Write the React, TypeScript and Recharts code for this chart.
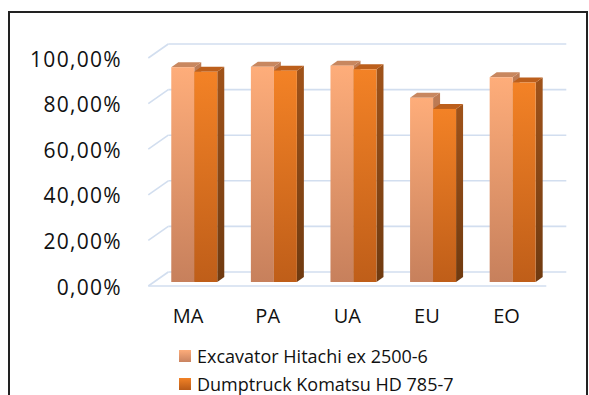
import React from "react";
import { BarChart, Bar, XAxis, YAxis, CartesianGrid, Legend } from "recharts";

const categories = ["MA", "PA", "UA", "EU", "EO"];
const excavator = [94.2, 94.4, 94.9, 80.8, 89.8];
const dumptruck = [92.2, 92.7, 93.3, 75.9, 87.5];
const yTicks = [0, 20, 40, 60, 80, 100];
const seriesKeys = ["excavator", "dumptruck"];
const seriesNames = ["Excavator Hitachi ex 2500-6", "Dumptruck Komatsu HD 785-7"];

const data = categories.map((name, i) => ({
  name,
  excavator: excavator[i],
  dumptruck: dumptruck[i],
}));

const font = "'Open Sans', sans-serif";
const W = 589;
const H = 395;
const margin = { top: 54, right: 37, bottom: 83, left: 34 };
const plotBottom = H - margin.bottom - 30;

// fake 3D: bar depth, and where the front edge / back wall sit relative to the bars
const depth = { dx: 7, dy: -5 };
const front = { dx: -5.7, dy: 4 };
const back = { dx: 14.3, dy: -10 };

const looks: Record<string, { top: string }> = {
  excavator: { top: "#C8875F" },
  dumptruck: { top: "#BC5F1C" },
};

const swatch: Record<string, string> = {
  excavator: "linear-gradient(#FDAC7A, #C98360)",
  dumptruck: "linear-gradient(#F28226, #B85A18)",
};

const Box = (p: any) => {
  const { x, y, width: w, height: h, look } = p;
  if (!h || h <= 0) return null;
  const { dx, dy } = depth;
  return (
    <g>
      <polygon
        points={`${x + w},${y} ${x + w + dx},${y + dy} ${x + w + dx},${y + h + dy} ${x + w},${y + h}`}
        fill={`url(#${look}-side)`}
      />
      <polygon
        points={`${x},${y} ${x + w},${y} ${x + w + dx},${y + dy} ${x + dx},${y + dy}`}
        fill={looks[look].top}
      />
      <rect x={x} y={y} width={w} height={h} fill={`url(#${look}-front)`} />
    </g>
  );
};

const gridLine = (p: any) => {
  const { x1, x2, y1 } = p;
  const bottom = p.y != null && p.height != null ? p.y + p.height : plotBottom;
  const floor = Math.abs(y1 - bottom) < 1;
  return (
    <g key={p.key} stroke="#D2DEEF" strokeWidth={1.6} fill="none">
      <line x1={x1 + back.dx} y1={y1 + back.dy} x2={x2 + back.dx} y2={y1 + back.dy} />
      <line x1={x1 + front.dx} y1={y1 + front.dy} x2={x1 + back.dx} y2={y1 + back.dy} />
      {floor && (
        <line x1={x1 + front.dx} y1={y1 + front.dy} x2={x2 + front.dx} y2={y1 + front.dy} />
      )}
    </g>
  );
};

const YTick = (p: any) => (
  <text
    x={122}
    y={p.y + front.dy + 1}
    dy="0.36em"
    textAnchor="end"
    fontFamily={font}
    fontSize={21}
    letterSpacing={1.3}
    fill="#111"
  >
    {p.payload.value.toFixed(2).replace(".", ",") + "%"}
  </text>
);

const XTick = (p: any) => (
  <text
    x={p.x + front.dx}
    y={323}
    textAnchor="middle"
    fontFamily={font}
    fontSize={20}
    fill="#111"
  >
    {p.payload.value}
  </text>
);

const renderLegend = ({ payload }: any) => {
  const items = [...(payload || [])].sort(
    (a: any, b: any) => seriesKeys.indexOf(a.dataKey) - seriesKeys.indexOf(b.dataKey)
  );
  return (
    <div>
      {items.map((e: any) => (
        <div
          key={e.dataKey}
          style={{
            display: "flex",
            alignItems: "center",
            height: 28,
            fontFamily: font,
            fontSize: 18,
            color: "#111",
            whiteSpace: "nowrap",
          }}
        >
          <span
            style={{
              display: "inline-block",
              width: 12,
              height: 12,
              marginRight: 6,
              background: swatch[e.dataKey],
            }}
          />
          {e.value}
        </div>
      ))}
    </div>
  );
};

export default function App() {
  return (
    <div style={{ position: "absolute", left: 0, top: 0, width: W, height: H, background: "#fff" }}>
      <div
        style={{
          position: "absolute",
          left: 8,
          top: 11,
          width: 580,
          height: H - 11,
          boxSizing: "border-box",
          borderTop: "2px solid #222",
          borderLeft: "2px solid #222",
          borderRight: "2px solid #222",
        }}
      />
      <div style={{ position: "absolute", left: 0, top: 0 }}>
        <BarChart
          width={W}
          height={H}
          data={data}
          margin={margin}
          barCategoryGap="21.7%"
          barGap={0}
        >
          <defs>
            <linearGradient id="excavator-front" x1="0" y1="0" x2="0" y2="1">
              <stop offset="0%" stopColor="#FEAD7A" />
              <stop offset="100%" stopColor="#C7805C" />
            </linearGradient>
            <linearGradient id="excavator-side" x1="0" y1="0" x2="0" y2="1">
              <stop offset="0%" stopColor="#BE7C55" />
              <stop offset="100%" stopColor="#9C6040" />
            </linearGradient>
            <linearGradient id="dumptruck-front" x1="0" y1="0" x2="0" y2="1">
              <stop offset="0%" stopColor="#F38226" />
              <stop offset="100%" stopColor="#BF5E19" />
            </linearGradient>
            <linearGradient id="dumptruck-side" x1="0" y1="0" x2="0" y2="1">
              <stop offset="0%" stopColor="#A0531A" />
              <stop offset="100%" stopColor="#6F3A10" />
            </linearGradient>
          </defs>
          <CartesianGrid vertical={false} horizontal={gridLine} />
          <XAxis
            dataKey="name"
            axisLine={false}
            tickLine={false}
            height={30}
            tick={<XTick />}
            interval={0}
          />
          <YAxis
            type="number"
            domain={[0, 100]}
            ticks={yTicks}
            width={120}
            axisLine={false}
            tickLine={false}
            tick={<YTick />}
          />
          <Legend
            layout="vertical"
            align="center"
            verticalAlign="middle"
            content={renderLegend}
            wrapperStyle={{ left: 179, top: 342, width: 320 }}
          />
          <Bar
            dataKey="excavator"
            name={seriesNames[0]}
            fill="#FDAC7A"
            isAnimationActive={false}
            shape={(p: any) => <Box {...p} look="excavator" />}
          />
          <Bar
            dataKey="dumptruck"
            name={seriesNames[1]}
            fill="#F28226"
            isAnimationActive={false}
            shape={(p: any) => <Box {...p} look="dumptruck" />}
          />
        </BarChart>
      </div>
    </div>
  );
}
